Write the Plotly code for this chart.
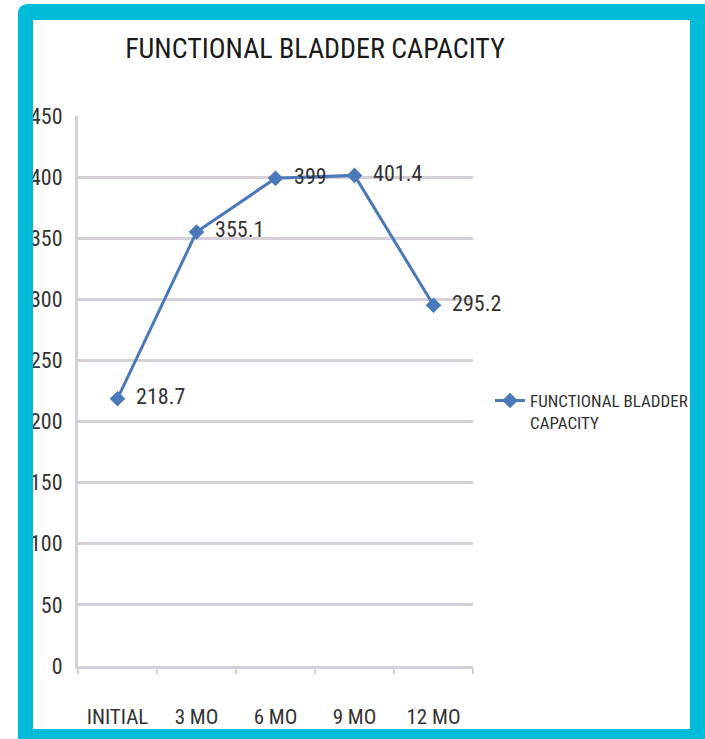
import plotly.graph_objects as go

categories = ["INITIAL", "3 MO", "6 MO", "9 MO", "12 MO"]
values = [218.7, 355.1, 399, 401.4, 295.2]
y_ticks = [0, 50, 100, 150, 200, 250, 300, 350, 400, 450]
series_name = "FUNCTIONAL BLADDER<br>CAPACITY"
title_text = "FUNCTIONAL BLADDER CAPACITY"

W, H = 705, 739
L, R, T, B = 78, 232, 116, 73
PW, PH = W - L - R, H - T - B

def px(x):
    return (x - L) / PW

def py(y):
    return (H - B - y) / PH

FONT = "Roboto Condensed, sans-serif"
BLUE = "#4a78b8"
GRID = "#d5d0d8"

fig = go.Figure()
fig.add_trace(go.Scatter(
    x=categories, y=values, mode="lines+markers+text",
    name=series_name,
    line=dict(color=BLUE, width=3),
    marker=dict(symbol="diamond", size=12, color=BLUE),
    text=["  " + f"{v:g}" for v in values],
    textposition="middle right",
    textfont=dict(family=FONT, size=22, color="#333333"),
    cliponaxis=False,
))

# cyan frame: rounded outer rectangle with a square hole (opposite winding)
ox0, ox1, oy0, oy1, r = 18, 712, 4, 750, 10
ix0, ix1, iy0, iy1 = 33, 690, 20, 729
outer = (f"M {px(ox0+r)},{py(oy0)} L {px(ox1-r)},{py(oy0)} Q {px(ox1)},{py(oy0)} {px(ox1)},{py(oy0+r)} "
         f"L {px(ox1)},{py(oy1-r)} Q {px(ox1)},{py(oy1)} {px(ox1-r)},{py(oy1)} "
         f"L {px(ox0+r)},{py(oy1)} Q {px(ox0)},{py(oy1)} {px(ox0)},{py(oy1-r)} "
         f"L {px(ox0)},{py(oy0+r)} Q {px(ox0)},{py(oy0)} {px(ox0+r)},{py(oy0)} Z")
inner = (f" M {px(ix0)},{py(iy0)} L {px(ix0)},{py(iy1)} L {px(ix1)},{py(iy1)} "
         f"L {px(ix1)},{py(iy0)} Z")

fig.update_layout(
    width=W, height=H,
    margin=dict(l=L, r=R, t=T, b=B, autoexpand=False),
    paper_bgcolor="white", plot_bgcolor="rgba(0,0,0,0)",
    title=dict(text=title_text, x=315 / W, xanchor="center", y=1 - 48 / H, yanchor="middle",
               font=dict(family=FONT, size=28, color="#1a1a1a")),
    xaxis=dict(type="category", range=[-0.5, 4.5], showgrid=False, automargin=False,
               showline=True, linecolor=GRID, linewidth=3,
               ticks="outside", tickson="boundaries", ticklen=5, tickcolor=GRID, tickwidth=2,
               tickangle=0,
               tickfont=dict(family=FONT, size=21, color="#333333"),
               ticklabelstandoff=30),
    yaxis=dict(range=[0, 450], tickvals=y_ticks, showgrid=True, gridcolor=GRID, gridwidth=3,
               automargin=False,
               showline=True, linecolor=GRID, linewidth=3, zeroline=False,
               tickfont=dict(family=FONT, size=22, color="#333333"),
               ticklabelstandoff=8),
    legend=dict(x=px(490), y=py(383), xanchor="left", yanchor="top", valign="top",
                bgcolor="rgba(0,0,0,0)",
                font=dict(family=FONT, size=17, color="#333333")),
    showlegend=True,
    shapes=[dict(type="path", path=outer + inner, xref="paper", yref="paper",
                 fillcolor="#00bcd8", line=dict(width=0), layer="above")],
)

fig.write_html("out.html", config={"displayModeBar": False},
               post_script="document.body.style.margin='0px';")
